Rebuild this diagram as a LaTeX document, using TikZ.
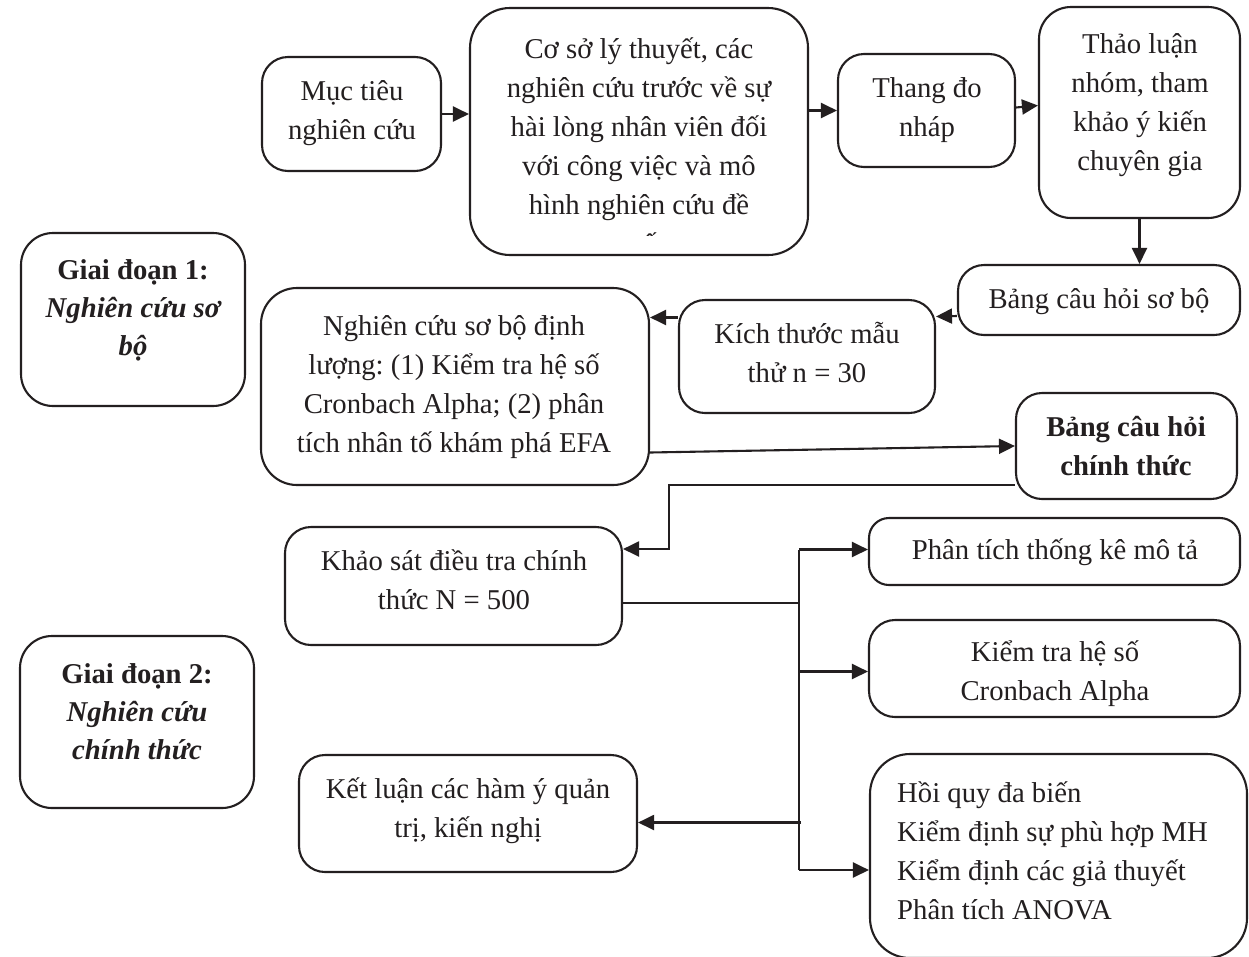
\documentclass[tikz,border=0pt]{standalone}
\usepackage{fontspec}
\setmainfont{Liberation Serif}
\usetikzlibrary{arrows.meta,calc}
\definecolor{ink}{HTML}{231F20}
\tikzset{
  box/.style={draw=ink, line width=2.1pt, rounded corners=26pt, inner sep=0pt},
  txt/.style={text=ink, font=\fontsize{28.7}{39}\selectfont\frenchspacing, align=center, inner sep=0pt},
  arr/.style={draw=ink, line width=2.1pt, -{Triangle[length=16pt,width=15pt]}},
  ln/.style={draw=ink, line width=2.1pt}
}
\begin{document}
\begin{tikzpicture}[x=1pt,y=-1pt]
\useasboundingbox (0,0) rectangle (1249,956);
\fill[white] (0,0) rectangle (1249,956);
% boxes
\node[box, minimum width=179pt, minimum height=114pt] (mt) at (351.5,114) {};
\node[box, rounded corners=40pt, minimum width=338pt, minimum height=247pt] (cs) at (639,131.5) {};
\node[box, minimum width=177pt, minimum height=113pt] (td) at (926.5,110.5) {};
\node[box, rounded corners=32pt, minimum width=201pt, minimum height=211pt] (tl) at (1139.5,112.5) {};
\node[box, minimum width=282pt, minimum height=70pt] (bsb) at (1099,300) {};
\node[box, minimum width=256pt, minimum height=113pt] (kt) at (807,356.5) {};
\node[box, rounded corners=36pt, minimum width=388pt, minimum height=197pt] (nc) at (455,386.5) {};
\node[box, minimum width=221pt, minimum height=106pt] (bct) at (1126.5,446) {};
\node[box, rounded corners=32pt, minimum width=224pt, minimum height=173pt] (gd1) at (133,319.5) {};
\node[box, minimum width=337pt, minimum height=118pt] (ks) at (453.5,586) {};
\node[box, rounded corners=20pt, minimum width=371pt, minimum height=67pt] (pt) at (1054.5,551.5) {};
\node[box, minimum width=371pt, minimum height=97pt] (kth) at (1054.5,668.5) {};
\node[box, rounded corners=32pt, minimum width=234pt, minimum height=172pt] (gd2) at (137,722) {};
\node[box, minimum width=338pt, minimum height=117pt] (kl) at (468,813.5) {};
\node[box, rounded corners=40pt, minimum width=377pt, minimum height=204pt] (hq) at (1058.5,856) {};
% texts
\node[txt] (mtT) at (352,111.7) {\strut Mục tiêu\\ nghiên cứu\strut};
\begin{scope}
\clip ($(cs.north west)$) rectangle ($(cs.south east)+(0,-21)$);
\node[txt] (csT) at (639,148.2) {\strut Cơ sở lý thuyết, các\\ \strut nghiên cứu trước về sự\\ \strut hài lòng nhân viên đối\\ \strut với công việc và mô\\ \strut hình nghiên cứu đề\\ \strut xuất};
\end{scope}
\node[txt] (tdT) at (927,108.7) {\strut Thang đo\\ nháp\strut};
\node[txt] (tlT) at (1140,103.7) {\strut Thảo luận\\ nhóm, tham\\ khảo ý kiến\\ chuyên gia\strut};
\node[txt] (bsbT) at (1099,300.2) {\strut Bảng câu hỏi sơ bộ\strut};
\node[txt] (ktT) at (807,354.7) {\strut Kích thước mẫu\\ thử n = 30\strut};
\node[txt] (ncT) at (454,385.7) {\strut Nghiên cứu sơ bộ định\\ lượng: (1) Kiểm tra hệ số\\ Cronbach Alpha; (2) phân\\ tích nhân tố khám phá EFA\strut};
\node[txt, font=\fontsize{28.7}{39}\selectfont\bfseries] (bctT) at (1126,448.2) {\strut Bảng câu hỏi\\ chính thức\strut};
\node[txt, font=\fontsize{28.7}{38}\selectfont\bfseries] (gd1T) at (133,310.2) {\strut Giai đoạn 1:\\ \itshape Nghiên cứu sơ\\ \itshape bộ\strut};
\node[txt] (ksT) at (454,581.7) {\strut Khảo sát điều tra chính\\ thức N = 500\strut};
\node[txt] (ptT) at (1055,551.2) {\strut Phân tích thống kê mô tả\strut};
\node[txt] (kthT) at (1055,673.2) {\strut Kiểm tra hệ số\\ Cronbach Alpha\strut};
\node[txt, font=\fontsize{28.7}{38}\selectfont\bfseries] (gd2T) at (137,713.7) {\strut Giai đoạn 2:\\ \itshape Nghiên cứu\\ \itshape chính thức\strut};
\node[txt] (klT) at (468,809.7) {\strut Kết luận các hàm ý quản\\ trị, kiến nghị\strut};
\node[txt, align=left, anchor=west] (hqT) at (897,852.7) {\strut Hồi quy đa biến\\ Kiểm định sự phù hợp MH\\ Kiểm định các giả thuyết\\ Phân tích ANOVA\strut};
% connectors
\draw[arr] (mt.east) -- (mt.east -| cs.west);
\draw[arr] (td.west -| cs.east) -- (td.west);
\draw[arr] ($(td.east)+(0,-3)$) -- ($(tl.west)+(0,-7)$);
\draw[arr] (tl.south) -- (tl.south |- bsb.north);
\draw[arr] ($(bsb.west)+(0,16)$) -- ($(kt.east)+(0,-40)$);
\coordinate (a1) at ($(kt.west)+(0,-39)$);
\draw[arr] (a1) -- (a1 -| nc.east);
\draw[arr] ($(nc.east)+(0,66)$) -- (bct.west);
\coordinate (b1) at ($(bct.west)+(0,39)$);
\coordinate (b2) at ($(ks.east)+(0,-37)$);
\coordinate (bk) at ($(b2)+(46,0)$);
\draw[arr] (b1) -| (bk) -- (b2);
\coordinate (bt) at ($(pt.west)+(-69,-2)$);
\coordinate (bb) at ($(hq.west)+(-70,14)$);
\draw[ln] (bt) -- (bb);
\coordinate (k1) at ($(ks.east)+(0,17)$);
\draw[ln] (k1) -- (k1 -| bt);
\draw[arr] (bt) -- (bt -| pt.west);
\coordinate (k2) at ($(kth.west)+(0,3)$);
\draw[arr] (k2 -| bt) -- (k2);
\draw[arr] (bb) -- (bb -| hq.west);
\coordinate (kc) at ($(kl.east)+(163,9)$);
\draw[arr] (kc) -- (kc -| kl.east);
\end{tikzpicture}
\end{document}
